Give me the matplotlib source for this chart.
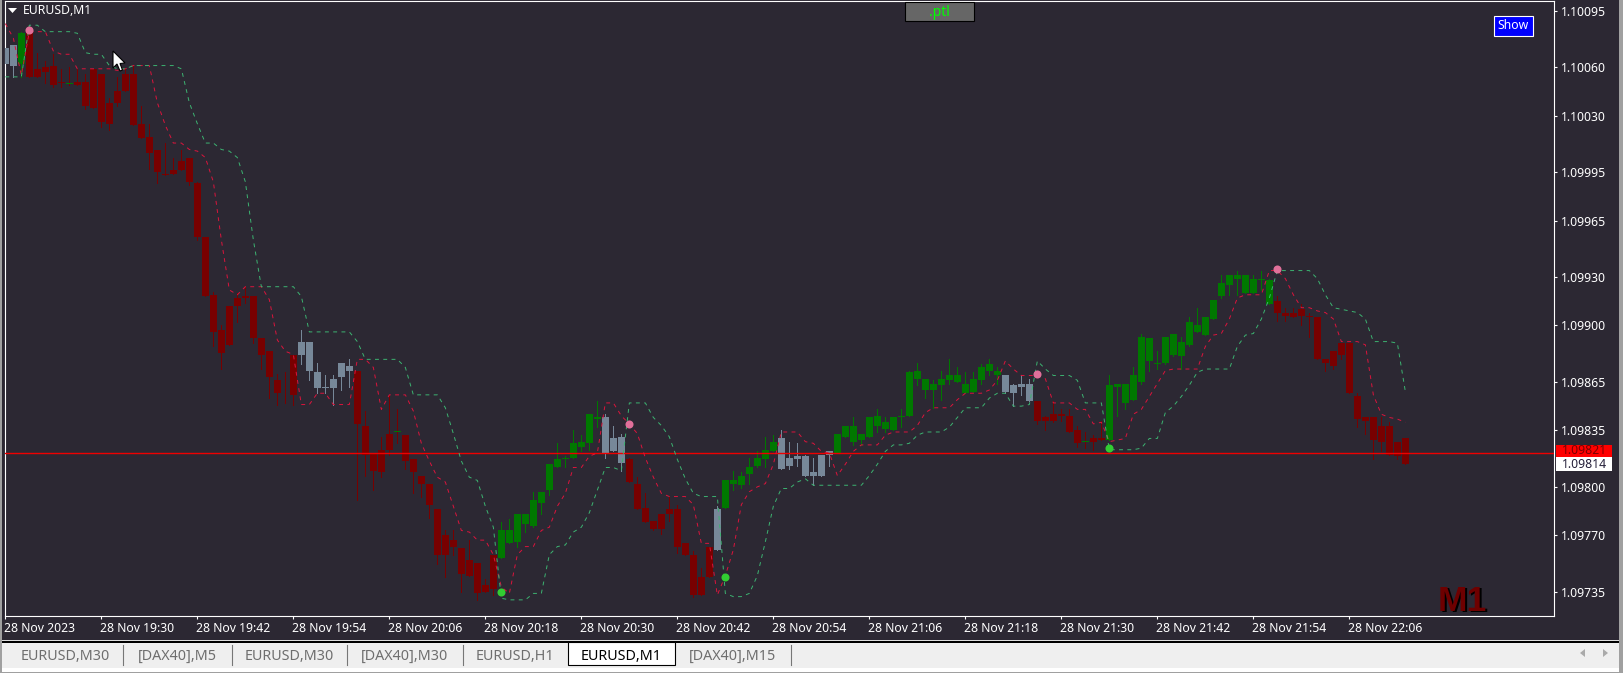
import numpy as np
import matplotlib
matplotlib.use('Agg')
import matplotlib.pyplot as plt
from matplotlib.patches import Rectangle, Polygon
from matplotlib.transforms import ScaledTranslation

# all series are points above 1.09700
BASE = 1.09700

body_hi = [372,374,381,381,359,360,361,351,350,351,
           351,359,356,338,345,356,356,325,317,309,
           294,296,302,304,288,255,219,197,212,217,
           218,218,192,184,166,156.4,182,190,190,171,
           162,167,177,175,172,138,121,123,133,134.6,
           132,117,107,102,86,70,67,62,55,53,
           39,58,73,73,83,83,92,97,114,117,
           118,127,128,145,143,143,130,131,117,102,
           87,79,83,86,86,65,58,44,63,86,
           104,104,107,112,118,123,128,130,118,119,
           119,109,120,122,133,138,138,133,143,144,
           140,143,144,171,172,167,164,167,169,169,
           164,167,174,176,172,169,163,164,164,153,
           143,145,145,144,135,128.6,130,130,163,164,
           164,169,193,192,177,193,195,190,202,200,
           205,216,226,231,231,231,229,229,228,215,
           208,208,210,206,205,179,184,189,189,156,
           143,143,138,138,128,130]
body_lo = [362,361,362,354,354,357,349,350,349.4,349,
           336,335,326,325,338,345,324,316,307,295,
           293,294,296,289,255,218,196,183,188,212,
           217,192,182,168,158,156,157,182,172,161,
           161,161,168,172,139,120,110,109,123,134,
           116,109,102,89,58,58,63,46,45,34,
           35,37,56,65,66,77,76,90,98,112,
           117,118,125,127,142,121,122,115,103,86,
           78,74,74,83,63,58,33,33,44,61,
           87,102,101,108,113,117,122,111,113,117,
           107,107,107,120,121,131,128,129,131,138,
           136,135,143,144,167,160,160,163,166,165,
           158,159,166,172,169,159,158,162,153,141,
           141,141,144,134,127,128,128,129,129,162,
           152,154,165,178,176,177,182,181,188,196,
           194,204,218,225,229,220,220,228,213,208,
           206,205,206,205,179,177,175,182,158,142,
           141,129,128,120,119,114]
highs = [375,374,382,383,369,364,368,359,360,359,
         356,359,356,341,354,359,361,336,325,309,
         313,304,309,304,289,255,221,200,212,220,
         224,218,192,184,170,171,182,197,190,177,
         169,169,177,179,172,147,121,131,157,148,
         132,117,107,102,86,73,73,62,67,53,
         43,58,78,80,83,83,97,97,114,127,
         119,135,132,145,153,145,138,133,118,106,
         96,79,83,94,89,65,60,50,63,88,
         104,110,109,118,122,131,132,135,128,127,
         120,118,120,122,133,138,143,133,143,148,
         143,143,148,172,177,167,166,172,179,174,
         171,171,176,179,174,169,164,169,167,153,
         144,153,148,148,138,134,132,141,169,164,
         164,174,195,192,184,193,195,193,205,211,
         205,216,231,231,234,231,231,234,229,218,
         211,211,213,208,205,179,184,189,189,158,
         143,143,143,140,128,130]
lows = [355,354,354,354,354,350,348,348,349,349,
        334,335,323,321,336,345,324,316,297,288,
        293,294,296,287,253,218,187,173,188,202,
        214,189,173,155,151,152,151,176,166,158,
        158,151,160,162,92,107,98,106,120,127,
        111,96,94,81,52,44,58,35,45,30,
        35,33,56,65,63,72,75,83,95,112,
        112,118,122,123,137,118,122,110,103,86,
        78,73,71,79,59,58,32,33,44,61,
        87,98,99,102,112,112,122,111,111,113,
        107,101,107,113,121,131,126,126,131,134,
        134,135,137,144,163,155,149,154,164,165,
        158,159,164,169,164,158,150,157,153,139,
        135,140,141,134,125,124,123,129,129,144,
        148,154,164,172,173,176,181,173,187,196,
        194,204,217,219,219,220,220,222,213,203,
        203,205,200,193,179,172,173,179,158,137,
        133,117,122,120,117,114]
states = ('xxg' + 'r'*5 + 'g' + 'r'*26 + 'g' + 'r' + 'x'*7 + 'r'*5 + 'g' + 'r'*12 + 'g'*13 +
          'x'*3 + 'r'*11 + 'x' + 'g'*7 + 'x'*7 + 'g'*21 + 'x'*4 + 'r'*6 + 'g' + 'rr' + 'g'*21 + 'r'*17)
red_wicked_doji = [8, 35, 49, 135]

red_line = [387,378,355,382,382,382,370,368,368,359,
            359,359,359,359,358,359,361,361,361,338,
            324,313,313,309,308,304,289,253,222,219,
            224,224,224,216,191,184,182,151,151,158,
            158,151,151,151,179,179,174,148,157,157,
            157,147,127,116,106,103,88,73,72,67,
            67,58,38,34,58,63,63,73,75,88,
            96,112,112,119,121,152,152,144,139,133,
            118,106,96,94,94,94,89,65,65,33,
            45,61,89,97,100,102,114,134,134,134,
            128,127,122,121,107,114,122,126,126,126,
            132,134,134,134,138,146,149,149,149,154,
            158,158,158,160,166,178,173,169,169,169,
            167,152,152,152,148,148,139,140,128,129,
            130,145,148,156,164,172,173,173,173,173,
            187,194,195,204,217,219,219,219,234,234,
            229,219,211,211,209,208,204,190,190,190,
            188,157,145,143,142,140]
teal_line = [354,354,354,386,386,382,382,382,382,381,
             369,368,368,361,359,359,361,361,361,361,
             361,361,359,338,325,313,313,309,308,304,
             289,253,224,224,224,224,224,218,196,196,
             196,196,196,196,190,179,179,179,179,179,
             174,157,157,157,157,149,133,116,106,104,
             88,75,31,30,30,30,34,34,58,63,
             64,72,75,84,98,112,112,110,152,152,
             152,143,138,131,117,105,96,94,94,94,
             34,32,32,34,45,66,88,99,99,103,
             105,101,101,101,101,101,101,101,107,114,
             122,126,126,127,132,134,134,134,137,143,
             149,149,149,155,158,158,150,150,151,178,
             173,169,169,169,166,152,152,152,123,123,
             123,123,124,130,130,146,150,156,163,171,
             173,173,173,173,187,194,195,204,217,234,
             234,234,234,234,229,219,211,210,209,208,
             204,190,190,190,189,159]

sell_idx = [3, 78, 129, 159]
sell_val = [383, 139, 170, 235]
buy_idx = [62, 90, 138]
buy_val = [35, 44, 124]

y_ticks = [1.10095, 1.10060, 1.10030, 1.09995, 1.09965, 1.09930,
           1.09900, 1.09865, 1.09835, 1.09800, 1.09770, 1.09735]
x_tick_idx = [0, 12, 24, 36, 48, 60, 72, 84, 96, 108, 120, 132, 144, 156, 168]
x_tick_labels = ['28 Nov 2023', '28 Nov 19:30', '28 Nov 19:42', '28 Nov 19:54', '28 Nov 20:06',
                 '28 Nov 20:18', '28 Nov 20:30', '28 Nov 20:42', '28 Nov 20:54', '28 Nov 21:06',
                 '28 Nov 21:18', '28 Nov 21:30', '28 Nov 21:42', '28 Nov 21:54', '28 Nov 22:06']
level = 1.09821
tabs = ['EURUSD,M30', '[DAX40],M5', 'EURUSD,M30', '[DAX40],M30', 'EURUSD,H1', 'EURUSD,M1', '[DAX40],M15']
tab_centers = [65, 177, 289, 405, 515, 621, 733]
tab_seps = [123.4, 231.7, 347.3, 463.4, 791]

BG = '#2c2833'
UP, DOWN, FLAT = '#007800', '#780000', '#778899'
colour_of = {'g': UP, 'r': DOWN, 'x': FLAT}
W, H = 1623, 673

plt.rcParams['font.family'] = ['Noto Sans', 'DejaVu Sans']
fig = plt.figure(figsize=(W / 100, H / 100), dpi=100, facecolor=BG)
ax = fig.add_axes([4.7 / W, (H - 616) / H, (1554 - 4.7) / W, 615 / H], facecolor=BG)

idx = np.arange(len(body_hi))
price = lambda v: BASE + np.array(v) / 1e5
colours = [colour_of[s] for s in states]
wick_colours = list(colours)
for i in red_wicked_doji:
    wick_colours[i] = DOWN

ax.vlines(idx, price(lows), price(highs), colors=wick_colours, lw=0.72, zorder=2, antialiased=False)
ax.bar(idx, price(body_hi) - price(body_lo), bottom=price(body_lo), width=0.875, color=colours,
       zorder=3, antialiased=False)
ax.axhline(level, color='#ee0000', lw=1, zorder=4)
ax.plot(idx, price(red_line), color='#dc143c', lw=0.7, ls=(0, (4, 4.5)), zorder=5)
ax.plot(idx, price(teal_line), color='#3cb371', lw=0.7, ls=(0, (4, 4.5)), zorder=5)
ax.plot(sell_idx, price(sell_val), 'o', color='#e0709a', ms=5.8, mew=0, zorder=6)
ax.plot(buy_idx, price(buy_val), 'o', color='#32cd32', ms=5.8, mew=0, zorder=6)

ax.set_xlim(-0.08, 193.58)
ax.set_ylim(1.09720, 1.10101)
ax.yaxis.tick_right()
ax.set_yticks(y_ticks)
ax.set_yticklabels(['%.5f' % t for t in y_ticks])
ax.set_xticks(x_tick_idx)
ax.set_xticklabels(x_tick_labels, ha='left')
ax.tick_params(colors='white', labelsize=8.8, length=2.4, width=0.8, pad=2.5)
ax.tick_params(axis='x', pad=2)
nudge = ScaledTranslation(-1.2 / 100, 0, fig.dpi_scale_trans)
for lab in ax.get_xticklabels():
    lab.set_transform(lab.get_transform() + nudge)
for s in ax.spines.values():
    s.set_color('white')
    s.set_linewidth(0.8)

# window chrome, drawn in image pixels
ui = fig.add_axes([0, 0, 1, 1], facecolor='none', zorder=10)
ui.set_xlim(0, W)
ui.set_ylim(H, 0)
ui.axis('off')

ui.add_patch(Rectangle((1556, 445), 56, 12, fc='#ff0000', ec='none'))
ui.text(1562, 451, '1.09821', color='#7a0000', fontsize=8.8, va='center')
ui.add_patch(Rectangle((1556, 457), 56, 14, fc='white', ec='none'))
ui.text(1562, 464, '1.09814', color='#25203a', fontsize=8.8, va='center')

ui.add_patch(Rectangle((905, 2), 69, 19, fc='#666666', ec='black', lw=0.8))
ui.text(939.5, 12.5, '.ptl', color='#00ff00', fontsize=10, ha='center', va='center')
ui.add_patch(Rectangle((1493.5, 15.5), 39, 20, fc='#0000ff', ec='white', lw=0.8))
ui.text(1513, 25.5, 'Show', color='white', fontsize=8.8, ha='center', va='center')

ui.add_patch(Polygon([(8, 8), (17, 8), (12.5, 13)], fc='white', ec='none'))
ui.text(23, 10, 'EURUSD,M1', color='white', fontsize=8.8, va='center')
ui.add_patch(Polygon([(113, 51), (113, 68), (117, 64), (120, 71), (122.5, 70), (120, 63.5), (125, 63)],
                     fc='white', ec='black', lw=0.8))

ui.text(1439.5, 612.5, 'M1', color='black', fontsize=25.5, fontweight='bold', family='Liberation Sans', va='baseline')
ui.text(1438, 611, 'M1', color='#6e0000', fontsize=25.5, fontweight='bold', family='Liberation Sans', va='baseline')

# tab bar
ui.add_patch(Rectangle((0, 640), W, 1, fc='#dddddd', ec='none'))
ui.add_patch(Rectangle((0, 641), W, 1.5, fc='black', ec='none'))
ui.add_patch(Rectangle((0, 642.5), W, 25.5, fc='#efefef', ec='none'))
ui.add_patch(Rectangle((0, 668), W, 3.5, fc='white', ec='none'))
ui.add_patch(Rectangle((0, 671.5), W, 1.5, fc='#a0a0a0', ec='none'))
ui.add_patch(Rectangle((0, 0), 1.5, 673, fc='#a0a0a0', ec='none'))
ui.add_patch(Rectangle((W - 4, 0), 4, 673, fc='#a0a0a0', ec='none'))
ui.add_patch(Rectangle((567.5, 642), 107, 23, fc='white', ec='black', lw=0.8))
for s in tab_seps:
    ui.plot([s, s], [645, 665], color='#777777', lw=0.8)
for name, c in zip(tabs, tab_centers):
    ui.text(c, 656, name, color='black' if name == 'EURUSD,M1' else '#6e6e6e',
            fontsize=10.3, ha='center', va='center')
ui.add_patch(Polygon([(1585, 649), (1585, 657), (1580, 653)], fc='#aaaaaa', ec='none'))
ui.add_patch(Polygon([(1603, 649), (1603, 657), (1608, 653)], fc='#aaaaaa', ec='none'))

fig.savefig('out.png', dpi=100, facecolor=BG)
